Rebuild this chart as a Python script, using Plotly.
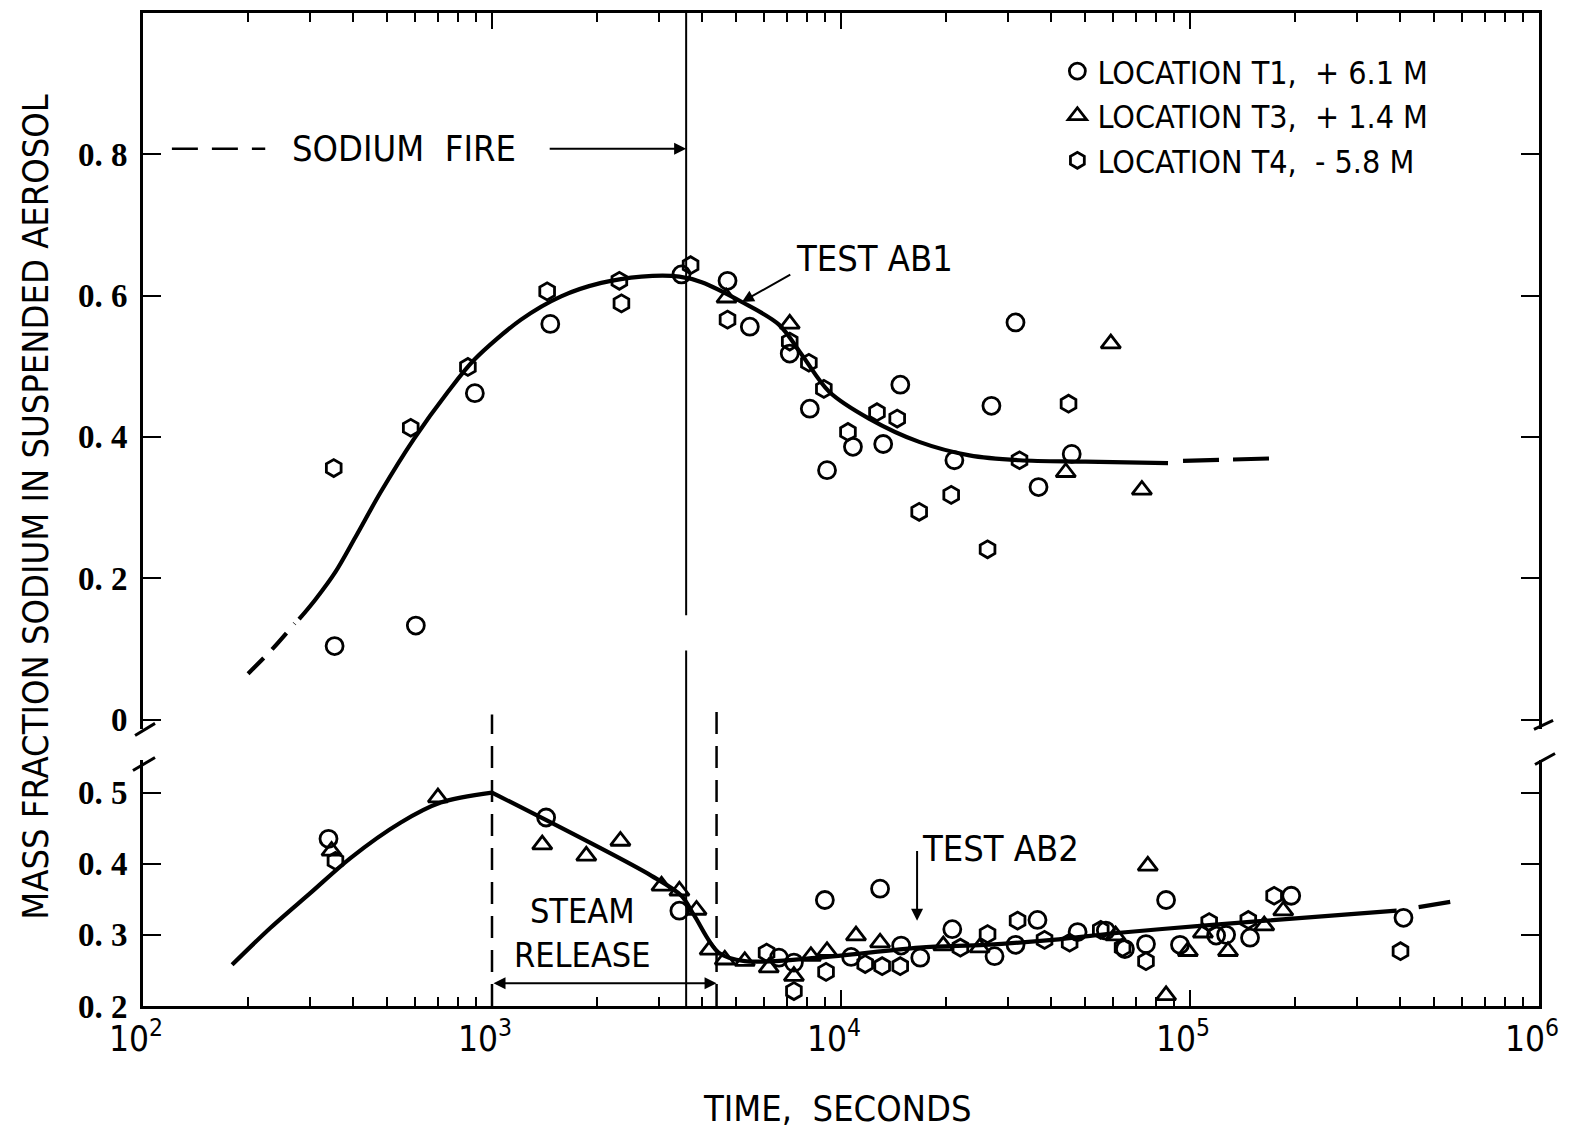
import math
import plotly.graph_objects as go

COND = "Liberation Sans Narrow, DejaVu Sans Condensed, Arial Narrow, sans-serif"
SERIF = "Liberation Serif, DejaVu Serif, serif"

# ---------------- upper panel (Test AB1) ----------------
ab1_t1_t = [354, 605, 893, 1469, 3490, 4730, 5480, 7130, 8140, 14790, 10820, 13210, 9120, 21130, 26980, 31620, 36810, 45820]
ab1_t1_y = [0.104, 0.133, 0.462, 0.560, 0.630, 0.621, 0.556, 0.518, 0.440, 0.474, 0.386, 0.390, 0.353, 0.367, 0.444, 0.562, 0.329, 0.376]
ab1_t3_t = [4700, 7130, 44060, 59300, 72800]
ab1_t3_y = [0.597, 0.560, 0.350, 0.532, 0.325]
ab1_t4_t = [352, 585, 853, 1439, 2317, 2349, 3707, 4730, 7130, 8090, 8930, 12680, 14490, 10470, 20690, 16750, 32470, 26300, 44870]
ab1_t4_y = [0.356, 0.413, 0.499, 0.606, 0.621, 0.589, 0.643, 0.566, 0.535, 0.505, 0.468, 0.435, 0.426, 0.407, 0.318, 0.294, 0.367, 0.241, 0.447]

ab1_fit_dash1_t = [200, 235, 272]
ab1_fit_dash1_y = [0.065, 0.100, 0.136]
ab1_fit_t = [280, 312, 356, 406, 480, 597, 748, 888, 1211, 1578, 2056, 2680, 3443, 3990, 5200, 6640, 7730, 9250, 12030, 16750, 23330, 32470, 50200, 86500]
ab1_fit_y = [0.142, 0.170, 0.209, 0.258, 0.322, 0.397, 0.464, 0.509, 0.566, 0.599, 0.618, 0.627, 0.627, 0.619, 0.591, 0.559, 0.516, 0.464, 0.426, 0.393, 0.374, 0.367, 0.365, 0.363]
ab1_fit_dash2_t = [95500, 182400]
ab1_fit_dash2_y = [0.366, 0.370]

# ---------------- lower panel (Test AB2) ----------------
ab2_t1_t = [340, 1429, 3443, 6640, 7330, 8990, 10690, 12940, 14870, 16870, 20840, 27540, 31630, 36560, 47640, 57400, 65100, 74800, 85400, 93600, 118800, 126900, 148600, 195000, 409000]
ab2_t1_y = [0.435, 0.465, 0.334, 0.268, 0.261, 0.349, 0.269, 0.365, 0.285, 0.268, 0.308, 0.270, 0.286, 0.321, 0.304, 0.306, 0.280, 0.287, 0.349, 0.286, 0.299, 0.300, 0.296, 0.355, 0.324]
ab2_t3_t = [347, 700, 1393, 1863, 2333, 3060, 3443, 3855, 4205, 4645, 5300, 6210, 7330, 8200, 9120, 11040, 12940, 19640, 24950, 61200, 75700, 85400, 98600, 108900, 128500, 163200, 185000]
ab2_t3_y = [0.418, 0.493, 0.427, 0.411, 0.432, 0.369, 0.362, 0.335, 0.279, 0.265, 0.263, 0.254, 0.242, 0.270, 0.277, 0.299, 0.289, 0.285, 0.282, 0.299, 0.397, 0.215, 0.277, 0.303, 0.277, 0.313, 0.334]
ab2_t4_t = [356, 6120, 7330, 9060, 11730, 13120, 14780, 21980, 26300, 32060, 38300, 45200, 55500, 64100, 74800, 113500, 146900, 174200, 401000]
ab2_t4_y = [0.404, 0.275, 0.221, 0.248, 0.259, 0.256, 0.256, 0.282, 0.301, 0.320, 0.293, 0.289, 0.307, 0.282, 0.263, 0.318, 0.321, 0.355, 0.277]

ab2_fit_rise_t = [180, 232, 302, 393, 548, 713, 1000]
ab2_fit_rise_y = [0.258, 0.310, 0.359, 0.408, 0.458, 0.486, 0.500]
ab2_fit_t = [1000, 2865, 3490, 3800, 4460, 5300, 8650, 16750, 25900, 40400, 62900, 109000, 176600, 391000]
ab2_fit_y = [0.500, 0.383, 0.355, 0.327, 0.275, 0.263, 0.268, 0.282, 0.286, 0.293, 0.303, 0.313, 0.321, 0.334]
ab2_fit_dash_t = [452000, 601000]
ab2_fit_dash_y = [0.339, 0.349]

legend_names = ["LOCATION T1,\u00a0\u00a0+ 6.1 M", "LOCATION T3,\u00a0\u00a0+ 1.4 M", "LOCATION T4,\u00a0\u00a0- 5.8 M"]
symbols = ["circle-open", "triangle-up-open", "hexagon-open"]

x_major = [100, 1000, 10000, 100000, 1000000]
x_major_text = ["10<sup>2</sup>", "10<sup>3</sup>", "10<sup>4</sup>", "10<sup>5</sup>", "10<sup>6</sup>"]
x_minor = [m * 10 ** k for k in range(2, 6) for m in range(2, 10)]
y_up_ticks = [0, 0.2, 0.4, 0.6, 0.8]
y_up_text = ["0", "0. 2", "0. 4", "0. 6", "0. 8"]
y_lo_ticks = [0.2, 0.3, 0.4, 0.5]
y_lo_text = ["0. 2", "0. 3", "0. 4", "0. 5"]

fire_end = 3600
steam_start = 1000
steam_end = 4400

BLACK = "black"
fig = go.Figure()


def pts(t, y, sym, name, axes, show):
    fig.add_trace(go.Scatter(
        x=t, y=y, mode="markers", name=name, legendgroup=name, showlegend=show,
        xaxis=axes[0], yaxis=axes[1],
        marker=dict(symbol=sym, size=17, color=BLACK, line=dict(width=2.8, color=BLACK)),
    ))


def line(t, y, axes, dash="solid", shape="spline", width=4.2):
    fig.add_trace(go.Scatter(
        x=t, y=y, mode="lines", showlegend=False, xaxis=axes[0], yaxis=axes[1],
        line=dict(color=BLACK, width=width, dash=dash, shape=shape, smoothing=0.9),
    ))


up = ("x2", "y2")
lo = ("x", "y")
line(ab1_fit_dash1_t, ab1_fit_dash1_y, up, dash="22px,12px")
line(ab1_fit_t, ab1_fit_y, up)
line(ab1_fit_dash2_t, ab1_fit_dash2_y, up, dash="36px,14px")
line(ab2_fit_rise_t, ab2_fit_rise_y, lo)
line(ab2_fit_t, ab2_fit_y, lo)
line(ab2_fit_dash_t, ab2_fit_dash_y, lo, dash="32px,14px")

for t, y, s, n in zip([ab1_t1_t, ab1_t3_t, ab1_t4_t], [ab1_t1_y, ab1_t3_y, ab1_t4_y], symbols, legend_names):
    pts(t, y, s, n, up, True)
for t, y, s, n in zip([ab2_t1_t, ab2_t3_t, ab2_t4_t], [ab2_t1_y, ab2_t3_y, ab2_t4_y], symbols, legend_names):
    pts(t, y, s, n, lo, False)

L = math.log10

xcommon = dict(type="log", range=[2, 6], showgrid=False, zeroline=False, showline=True, automargin=False,
               linewidth=3, linecolor=BLACK, ticks="inside", ticklen=16, tickwidth=2, tickcolor=BLACK,
               tickvals=x_major,
               minor=dict(tickvals=x_minor, ticks="inside", ticklen=9, tickwidth=2, tickcolor=BLACK))
ycommon = dict(showgrid=False, zeroline=False, showline=True, linewidth=3, linecolor=BLACK, automargin=False,
               mirror="ticks", ticks="inside", ticklen=18, tickwidth=2, tickcolor=BLACK,
               ticklabelstandoff=6,
               tickfont=dict(family=SERIF, size=33, color=BLACK, weight="bold"))

fig.update_layout(
    width=1573, height=1139,
    margin=dict(l=135, r=42, t=5, b=141),
    paper_bgcolor="white", plot_bgcolor="white",
    xaxis=dict(**xcommon, anchor="y", side="bottom", ticktext=x_major_text, ticklabelshift=-7,
               tickfont=dict(family=COND, size=35, color=BLACK)),
    xaxis2=dict(**xcommon, anchor="y2", side="top", matches="x", showticklabels=False),
    yaxis=dict(**ycommon, domain=[0, 0.2482], range=[0.2, 0.5465], tickvals=y_lo_ticks, ticktext=y_lo_text, anchor="x"),
    yaxis2=dict(**ycommon, domain=[0.2785, 1], range=[-0.014, 1.0], tickvals=y_up_ticks, ticktext=y_up_text, anchor="x2"),
    legend=dict(x=0.655, y=0.969, xanchor="left", yanchor="top", bgcolor="rgba(0,0,0,0)",
                font=dict(family=COND, size=32, color=BLACK), tracegroupgap=0, itemwidth=30),
    showlegend=True,
)

shapes = []
# sodium fire end (solid thin vertical line, with gap)
shapes.append(dict(type="line", xref="x", yref="paper", x0=fire_end, x1=fire_end, y0=0.3935, y1=1.0,
                   line=dict(color=BLACK, width=2)))
shapes.append(dict(type="line", xref="x", yref="paper", x0=fire_end, x1=fire_end, y0=0.0, y1=0.358,
                   line=dict(color=BLACK, width=2)))
# steam release dashed vertical lines
for xv, ytop in [(steam_start, 0.2936), (steam_end, 0.2997)]:
    shapes.append(dict(type="line", xref="x", yref="paper", x0=xv, x1=xv, y0=0.0, y1=ytop,
                       line=dict(color=BLACK, width=2.5, dash="22px,12px")))
# sodium fire dashed lead-in
shapes.append(dict(type="line", xref="x2", yref="y2", x0=121, x1=224, y0=0.808, y1=0.808,
                   line=dict(color=BLACK, width=2.5, dash="26px,14px")))
# axis break marks
for (xa, ya, xb, yb) in [(-0.0057, 0.2724, 0.0086, 0.2846), (-0.0072, 0.2371, 0.0086, 0.2503),
                         (0.9964, 0.2785, 1.0101, 0.2876), (0.9971, 0.2432, 1.0115, 0.2543)]:
    shapes.append(dict(type="line", xref="paper", yref="paper", x0=xa, y0=ya, x1=xb, y1=yb,
                       line=dict(color=BLACK, width=3)))
fig.update_layout(shapes=shapes)

ann = []
# SODIUM FIRE arrow
ann.append(dict(xref="x2", yref="y2", axref="x2", ayref="y2", x=L(fire_end), y=0.808, ax=3.161, ay=0.808,
                text="", showarrow=True, arrowhead=2, arrowsize=1.2, arrowwidth=2, arrowcolor=BLACK))
ann.append(dict(xref="x2", yref="y2", x=2.747, y=0.808, text="SODIUM\u00a0\u00a0FIRE", showarrow=False,
                xanchor="center", yanchor="middle", font=dict(family=COND, size=36, color=BLACK)))
# TEST AB1
ann.append(dict(xref="x2", yref="y2", axref="x2", ayref="y2", x=3.716, y=0.591, ax=3.859, ay=0.631,
                text="", showarrow=True, arrowhead=2, arrowsize=1.2, arrowwidth=2, arrowcolor=BLACK))
ann.append(dict(xref="x2", yref="y2", x=4.095, y=0.652, text="TEST AB1", showarrow=False,
                xanchor="center", yanchor="middle", font=dict(family=COND, size=36, color=BLACK)))
# TEST AB2
ann.append(dict(xref="x", yref="y", axref="x", ayref="y", x=4.218, y=0.320, ax=4.218, ay=0.420,
                text="", showarrow=True, arrowhead=2, arrowsize=1.2, arrowwidth=2, arrowcolor=BLACK))
ann.append(dict(xref="x", yref="y", x=4.457, y=0.421, text="TEST AB2", showarrow=False,
                xanchor="center", yanchor="middle", font=dict(family=COND, size=36, color=BLACK)))
# STEAM RELEASE double arrow
ann.append(dict(xref="x", yref="y", axref="x", ayref="y", x=L(steam_end), y=0.232, ax=L(steam_start), ay=0.232,
                text="", showarrow=True, arrowhead=2, startarrowhead=2, arrowside="end+start",
                arrowsize=1.2, startarrowsize=1.2, arrowwidth=2, arrowcolor=BLACK))
ann.append(dict(xref="x", yref="y", x=3.259, y=0.302, text="STEAM<br>RELEASE", showarrow=False,
                xanchor="center", yanchor="middle", font=dict(family=COND, size=34, color=BLACK)))
# axis titles
ann.append(dict(xref="paper", yref="paper", x=0.497, y=-0.103, text="TIME,\u00a0\u00a0SECONDS", showarrow=False,
                xanchor="center", yanchor="middle", font=dict(family=COND, size=36, color=BLACK)))
ann.append(dict(xref="paper", yref="paper", x=-0.0776, y=0.5025, textangle=-90,
                text="MASS FRACTION SODIUM IN SUSPENDED AEROSOL", showarrow=False,
                xanchor="center", yanchor="middle", font=dict(family=COND, size=36, color=BLACK)))
fig.update_layout(annotations=ann)

fig.write_html("out.html")
